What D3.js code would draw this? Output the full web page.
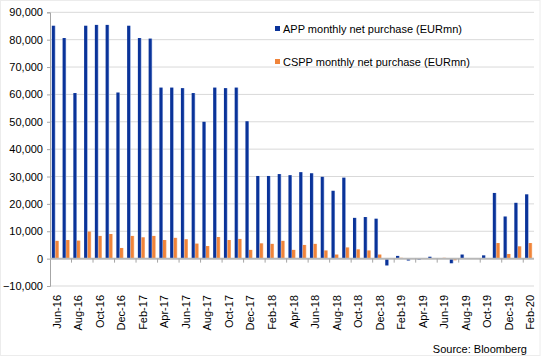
<!DOCTYPE html>
<html>
<head>
<meta charset="utf-8">
<script src="https://cdn.jsdelivr.net/npm/d3@7"></script>
<style>
  body { margin: 0; background: #fff; }
  text { font-family: "Liberation Sans", Arial, sans-serif; fill: #000; }
</style>
</head>
<body>
<script>
// months Jun-16 .. Feb-20
const months = ["Jun-16","Jul-16","Aug-16","Sep-16","Oct-16","Nov-16","Dec-16",
  "Jan-17","Feb-17","Mar-17","Apr-17","May-17","Jun-17","Jul-17","Aug-17","Sep-17","Oct-17","Nov-17","Dec-17",
  "Jan-18","Feb-18","Mar-18","Apr-18","May-18","Jun-18","Jul-18","Aug-18","Sep-18","Oct-18","Nov-18","Dec-18",
  "Jan-19","Feb-19","Mar-19","Apr-19","May-19","Jun-19","Jul-19","Aug-19","Sep-19","Oct-19","Nov-19","Dec-19",
  "Jan-20","Feb-20"];

// APP monthly net purchase (EURmn)
const app = [85100,80600,60500,85100,85400,85400,60700,
  85100,80600,80400,62500,62500,62300,60500,50000,62500,62300,62500,50200,
  30200,30200,30900,30500,31600,31200,29900,24800,29600,14900,15200,14600,
  -2500,1000,-700,-400,700,200,-1700,1500,100,1200,24000,15400,
  20400,23500];

// CSPP monthly net purchase (EURmn)
const cspp = [6500,6800,6600,9900,8300,9000,3900,
  8300,7800,8300,6800,7600,7100,5500,4600,7900,6800,7200,3200,
  5600,5400,6500,3200,5000,5400,3000,1500,4100,3400,3000,1500,
  0,300,0,0,200,300,-600,200,-100,200,5700,1700,
  4500,5700];

const yTicks = [-10000,0,10000,20000,30000,40000,50000,60000,70000,80000,90000];
const legendNames = ["APP monthly net purchase (EURmn)", "CSPP monthly net purchase (EURmn)"];
const colors = ["#0a3399", "#f0843a"];
const lights = ["#8ea6dc", "#f8b888"];

const W = 541, H = 361;
const margin = {left: 50, right: 534, top: 12.3, bottom: 286};

const svg = d3.select("body").append("svg")
  .attr("width", W).attr("height", H);

// faint outer border
svg.append("rect").attr("x", 0.5).attr("y", 0.5).attr("width", 539.5).attr("height", 355)
  .attr("fill", "none").attr("stroke", "#ececec");

const defs = svg.append("defs");
colors.forEach((c, i) => {
  const g = defs.append("linearGradient").attr("id", "g" + i)
    .attr("x1", "0%").attr("x2", "100%").attr("y1", "0%").attr("y2", "0%");
  g.append("stop").attr("offset", "0%").attr("stop-color", c);
  g.append("stop").attr("offset", "68%").attr("stop-color", c);
  g.append("stop").attr("offset", "100%").attr("stop-color", lights[i]);
});

const x = d3.scaleBand().domain(months).range([margin.left, margin.right]).paddingInner(0.34).paddingOuter(0.17);
const xs = d3.scaleBand().domain([0, 1]).range([0, x.bandwidth()]);
const y = d3.scaleLinear().domain([-10000, 90000]).range([margin.bottom, margin.top]);

// gridlines
svg.append("g").selectAll("line").data(yTicks.filter(d => d !== 0)).join("line")
  .attr("x1", margin.left).attr("x2", margin.right)
  .attr("y1", d => y(d)).attr("y2", d => y(d))
  .attr("stroke", "#d9d9d9").attr("stroke-width", 1);

// y axis
const yAxis = svg.append("g").attr("transform", `translate(${margin.left},0)`)
  .call(d3.axisLeft(y).tickValues(yTicks).tickSize(3).tickPadding(4).tickFormat(d3.format(",")));
yAxis.select(".domain").attr("stroke", "#a6a6a6");
yAxis.selectAll(".tick line").attr("stroke", "#a6a6a6");
yAxis.selectAll("text").style("font-size", "11px").attr("fill", "#000");

// bars
const series = [app, cspp];
series.forEach((vals, si) => {
  svg.append("g").selectAll("rect").data(vals).join("rect")
    .attr("x", (d, i) => x(months[i]) + xs(si))
    .attr("width", xs.bandwidth())
    .attr("y", d => y(Math.max(0, d)))
    .attr("height", d => Math.abs(y(d) - y(0)))
    .attr("fill", `url(#g${si})`);
});

// zero line as category axis
svg.append("line").attr("x1", margin.left).attr("x2", margin.right)
  .attr("y1", y(0)).attr("y2", y(0))
  .attr("stroke", "#b8b8b8").attr("stroke-width", 2);

// category ticks every second month boundary
const step = x.step();
const tickIdx = d3.range(2, months.length, 2);
svg.append("g").selectAll("line").data(tickIdx).join("line")
  .attr("x1", d => x(months[d]) - x.paddingInner() * step / 2)
  .attr("x2", d => x(months[d]) - x.paddingInner() * step / 2)
  .attr("y1", y(0)).attr("y2", y(0) + 4)
  .attr("stroke", "#a6a6a6");

// category labels (every second month)
svg.append("g").selectAll("text").data(months.filter((m, i) => i % 2 === 0)).join("text")
  .attr("transform", d => `translate(${x(d) + x.bandwidth() / 2 + 5.5},295) rotate(-90)`)
  .attr("text-anchor", "end")
  .style("font-size", "11px")
  .text(d => d);

// legend
const lg = svg.append("g");
legendNames.forEach((n, i) => {
  const ly = 28.5 + i * 33;
  lg.append("rect").attr("x", 275).attr("y", ly - 2.5).attr("width", 5).attr("height", 5).attr("fill", colors[i]);
  lg.append("text").attr("x", 283).attr("y", ly + 4).style("font-size", "11px").text(n);
});

// source
svg.append("text").attr("x", 527).attr("y", 353).attr("text-anchor", "end")
  .style("font-size", "11px").text("Source: Bloomberg");
</script>
</body>
</html>
